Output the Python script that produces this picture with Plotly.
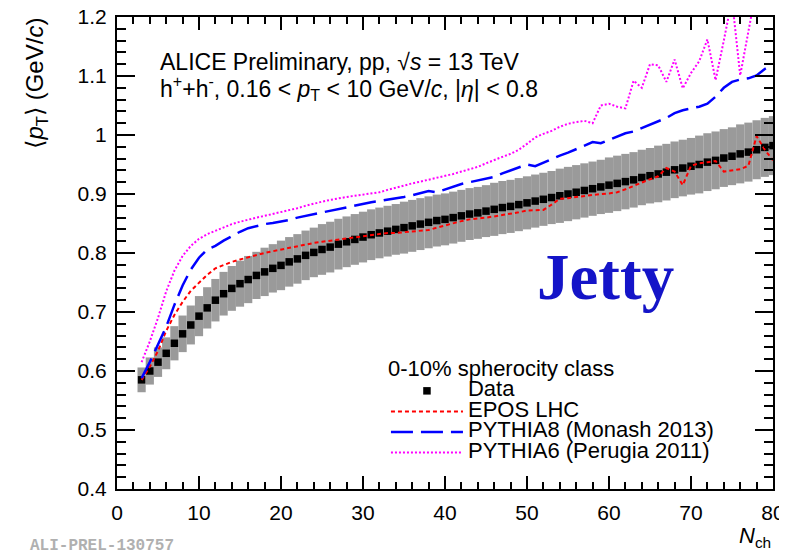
import plotly.graph_objects as go

nch = list(range(3, 81))

data_mean = [0.585, 0.600, 0.615, 0.630, 0.647, 0.663, 0.678, 0.693, 0.707, 0.720,
             0.731, 0.740, 0.748, 0.755, 0.762, 0.768, 0.774, 0.779, 0.785, 0.790,
             0.796, 0.801, 0.806, 0.810, 0.815, 0.819, 0.823, 0.827, 0.831, 0.834,
             0.837, 0.840, 0.843, 0.846, 0.849, 0.852, 0.855, 0.857, 0.860, 0.863,
             0.866, 0.868, 0.871, 0.874, 0.877, 0.879, 0.882, 0.885, 0.888, 0.891,
             0.894, 0.897, 0.900, 0.903, 0.906, 0.909, 0.912, 0.915, 0.918, 0.921,
             0.924, 0.928, 0.931, 0.934, 0.937, 0.941, 0.944, 0.947, 0.950, 0.954,
             0.957, 0.961, 0.964, 0.968, 0.971, 0.975, 0.979, 0.982]

data_syst = [0.021, 0.023, 0.025, 0.027, 0.029, 0.031, 0.033, 0.034, 0.035, 0.036,
             0.037, 0.038, 0.039, 0.040, 0.040, 0.041, 0.041, 0.042, 0.042, 0.042,
             0.042, 0.042, 0.043, 0.043, 0.043, 0.043, 0.043, 0.043, 0.043, 0.043,
             0.043, 0.043, 0.044, 0.044, 0.044, 0.044, 0.044, 0.044, 0.044, 0.044,
             0.044, 0.044, 0.044, 0.045, 0.045, 0.045, 0.045, 0.045, 0.045, 0.045,
             0.045, 0.046, 0.046, 0.046, 0.046, 0.046, 0.046, 0.047, 0.047, 0.047,
             0.047, 0.047, 0.047, 0.048, 0.048, 0.048, 0.048, 0.048, 0.049, 0.049,
             0.049, 0.049, 0.049, 0.050, 0.050, 0.050, 0.050, 0.050]

epos_lhc = [0.585, 0.607, 0.634, 0.668, 0.695, 0.717, 0.736, 0.750, 0.763, 0.774,
            0.780, 0.785, 0.789, 0.793, 0.797, 0.800, 0.803, 0.806, 0.809, 0.812,
            0.814, 0.817, 0.819, 0.821, 0.823, 0.825, 0.827, 0.829, 0.831, 0.833,
            0.834, 0.834, 0.835, 0.836, 0.837, 0.839, 0.843, 0.847, 0.850, 0.854,
            0.857, 0.858, 0.860, 0.862, 0.864, 0.866, 0.869, 0.872, 0.873, 0.873,
            0.882, 0.892, 0.893, 0.895, 0.897, 0.899, 0.900, 0.901, 0.903, 0.908,
            0.914, 0.920, 0.925, 0.930, 0.944, 0.938, 0.915, 0.948, 0.952, 0.954,
            0.956, 0.938, 0.940, 0.942, 0.948, 0.998, 0.975, 0.957]

pythia8 = [0.588, 0.615, 0.645, 0.675, 0.712, 0.745, 0.772, 0.792, 0.806, 0.812,
           0.821, 0.829, 0.836, 0.842, 0.846, 0.849, 0.851, 0.853, 0.856, 0.860,
           0.863, 0.866, 0.869, 0.872, 0.875, 0.878, 0.881, 0.884, 0.886, 0.888,
           0.890, 0.892, 0.895, 0.898, 0.901, 0.905, 0.903, 0.908, 0.913, 0.917,
           0.920, 0.923, 0.926, 0.929, 0.935, 0.940, 0.945, 0.950, 0.947, 0.953,
           0.960, 0.965, 0.970, 0.976, 0.982, 0.988, 0.986, 0.992, 0.998, 1.003,
           1.006, 1.012, 1.018, 1.024, 1.029, 1.037, 1.042, 1.045, 1.048, 1.053,
           1.065, 1.080, 1.090, 1.094, 1.096, 1.101, 1.112, 1.120]

pythia6 = [0.615, 0.650, 0.690, 0.735, 0.770, 0.795, 0.812, 0.824, 0.832, 0.838,
           0.844, 0.849, 0.853, 0.857, 0.860, 0.863, 0.866, 0.869, 0.872, 0.876,
           0.880, 0.884, 0.887, 0.890, 0.893, 0.895, 0.897, 0.899, 0.901, 0.903,
           0.907, 0.911, 0.915, 0.918, 0.921, 0.924, 0.927, 0.930, 0.934, 0.938,
           0.942, 0.946, 0.952, 0.958, 0.963, 0.968, 0.975, 0.985, 0.996, 1.002,
           1.007, 1.014, 1.019, 1.022, 1.024, 1.020, 1.050, 1.053, 1.048, 1.045,
           1.092, 1.080, 1.120, 1.118, 1.090, 1.128, 1.079, 1.105, 1.125, 1.162,
           1.093, 1.160, 1.230, 1.101, 1.180, 1.250, 1.260, 1.240]

x_ticks = [0, 10, 20, 30, 40, 50, 60, 70, 80]
y_ticks = [0.4, 0.5, 0.6, 0.7, 0.8, 0.9, 1.0, 1.1, 1.2]
y_tick_text = ["0.4", "0.5", "0.6", "0.7", "0.8", "0.9", "1", "1.1", "1.2"]

FONT = "Liberation Sans, Arial, Helvetica, sans-serif"
LEG = "<span style='font-size:22px'>{}</span>"

fig = go.Figure()

# systematic band (gray boxes)
fig.add_trace(go.Bar(
    x=nch,
    y=[2 * e for e in data_syst],
    base=[m - e for m, e in zip(data_mean, data_syst)],
    width=1.0,
    marker=dict(color="#9a9a9a", line=dict(width=0)),
    showlegend=False, hoverinfo="skip",
))

fig.add_trace(go.Scatter(
    x=nch, y=data_mean, mode="markers", name=LEG.format("Data"),
    marker=dict(symbol="square", size=7.5, color="black", line=dict(width=0)),
))
fig.add_trace(go.Scatter(
    x=nch, y=epos_lhc, mode="lines", name=LEG.format("EPOS LHC"),
    line=dict(color="#ff0000", width=2, dash="4px,3px"),
))
fig.add_trace(go.Scatter(
    x=nch, y=pythia8, mode="lines", name=LEG.format("PYTHIA8 (Monash 2013)"),
    line=dict(color="#0000ff", width=2.5, dash="22px,8px"),
))
fig.add_trace(go.Scatter(
    x=nch, y=pythia6, mode="lines", name=LEG.format("PYTHIA6 (Perugia 2011)"),
    line=dict(color="#ff00ff", width=2, dash="2px,2px"),
))

axis_common = dict(
    showline=True, linecolor="black", linewidth=2, mirror="allticks",
    ticks="inside", tickcolor="black", tickwidth=1.5,
    showgrid=False, zeroline=False, automargin=False,
    ticklabeloverflow="allow",
    tickfont=dict(family=FONT, size=21, color="black"),
)

fig.update_xaxes(
    range=[0, 80], tickvals=x_ticks, ticklen=13,
    minor=dict(dtick=2, ticks="inside", ticklen=7, tickcolor="black", tickwidth=1.5),
    ticklabelstandoff=4,
    **axis_common,
)
fig.update_yaxes(
    range=[0.4, 1.2], tickvals=y_ticks, ticktext=y_tick_text, ticklen=18,
    minor=dict(dtick=0.02, ticks="inside", ticklen=9, tickcolor="black", tickwidth=1.5),
    ticklabelstandoff=4,
    **axis_common,
)

# the page body has an 8px margin: figure is 779x544 so it fits the 787x552 window
fig.update_layout(
    template="none",
    width=779, height=544,
    margin=dict(l=109, r=14, t=9, b=63, autoexpand=False),
    paper_bgcolor="white", plot_bgcolor="white",
    barmode="overlay",
    showlegend=True,
    legend=dict(
        x=0.41, y=0.2775, xanchor="left", yanchor="top",
        bgcolor="rgba(0,0,0,0)",
        font=dict(family=FONT, size=13.5, color="black"),
        title=dict(text=LEG.format("0-10% spherocity class"),
                   font=dict(family=FONT, size=13.5, color="black")),
        itemwidth=72, tracegroupgap=0,
    ),
    annotations=[
        dict(text="ALICE Preliminary, pp, √<i>s</i> = 13 TeV", xref="paper", yref="paper",
             x=0.0625, y=0.9047, xanchor="left", yanchor="middle", showarrow=False,
             font=dict(family=FONT, size=23, color="black")),
        dict(text="h<sup>+</sup>+h<sup>-</sup>, 0.16 < <i>p</i><sub>T</sub> < 10 GeV/<i>c</i>, |<i>η</i>| < 0.8",
             xref="paper", yref="paper",
             x=0.0625, y=0.8496, xanchor="left", yanchor="middle", showarrow=False,
             font=dict(family=FONT, size=23, color="black")),
        dict(text="<b>Jetty</b>", xref="paper", yref="paper", x=0.745, y=0.45,
             xanchor="center", yanchor="middle", showarrow=False,
             font=dict(family="Liberation Serif, Times New Roman, serif", size=65, color="#1414c8")),
        dict(text="⟨<i>p</i><sub>T</sub>⟩ (GeV/<i>c</i>)", xref="paper", yref="paper",
             x=-0.122, y=1.004, xanchor="center", yanchor="top", textangle=-90, showarrow=False,
             font=dict(family=FONT, size=24, color="black")),
        dict(text="<i>N</i><sub>ch</sub>", xref="paper", yref="paper",
             x=1.0, y=-0.1017, xanchor="right", yanchor="middle", showarrow=False,
             font=dict(family=FONT, size=22, color="black")),
        dict(text="<b>ALI-PREL-130757</b>", xref="paper", yref="paper",
             x=-0.1357, y=-0.1208, xanchor="left", yanchor="middle", showarrow=False,
             font=dict(family="Liberation Mono, Courier New, monospace", size=16, color="#b0b0b0")),
    ],
)

fig.write_html("out.html")
